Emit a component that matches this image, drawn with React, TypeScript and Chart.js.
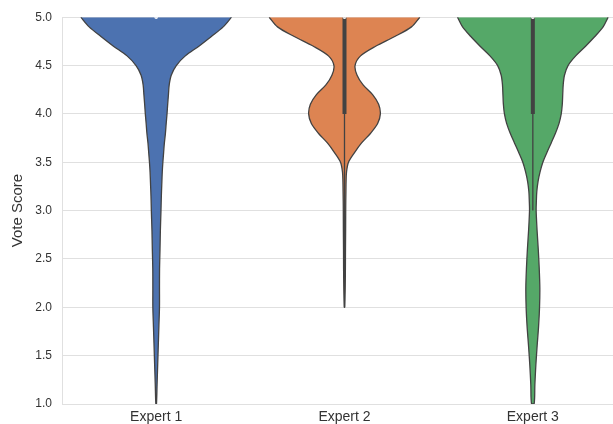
import React, { useEffect, useRef } from 'react';
import { Chart, registerables } from 'chart.js';

Chart.register(...registerables);

// ---- Data ----
const CATEGORIES = ['Expert 1', 'Expert 2', 'Expert 3'];

const EXPERT1_SCORES = [5.0, 4.9, 4.8, 4.7, 4.6, 4.5, 4.4, 4.3, 4.2, 4.1, 4.0, 3.9, 3.8, 3.7, 3.6, 3.5, 3.4, 3.3, 3.2, 3.1, 3.0, 2.8, 2.6, 2.4, 2.2, 2.0, 1.8, 1.6, 1.4, 1.2, 1.0];
const EXPERT1_DENSITY = [1.0, 0.89, 0.733, 0.567, 0.387, 0.267, 0.2, 0.173, 0.163, 0.153, 0.144, 0.133, 0.123, 0.109, 0.099, 0.089, 0.081, 0.076, 0.071, 0.067, 0.064, 0.056, 0.051, 0.045, 0.044, 0.044, 0.036, 0.028, 0.02, 0.012, 0.004];

const EXPERT2_SCORES = [5.0, 4.9, 4.8, 4.7, 4.6, 4.5, 4.4, 4.3, 4.2, 4.1, 4.0, 3.9, 3.8, 3.7, 3.6, 3.5, 3.4, 3.3, 3.2, 3.1, 3.0, 2.8, 2.6, 2.4, 2.2, 2.0];
const EXPERT2_DENSITY = [1.0, 0.889, 0.667, 0.413, 0.213, 0.14, 0.167, 0.247, 0.373, 0.453, 0.476, 0.44, 0.347, 0.227, 0.133, 0.053, 0.027, 0.021, 0.019, 0.017, 0.016, 0.015, 0.013, 0.012, 0.009, 0.002];

const EXPERT3_SCORES = [5.0, 4.9, 4.8, 4.7, 4.6, 4.5, 4.4, 4.3, 4.2, 4.1, 4.0, 3.9, 3.8, 3.7, 3.6, 3.5, 3.4, 3.3, 3.2, 3.1, 3.0, 2.8, 2.6, 2.4, 2.2, 2.0, 1.8, 1.6, 1.4, 1.2, 1.0];
const EXPERT3_DENSITY = [1.0, 0.933, 0.823, 0.7, 0.569, 0.467, 0.42, 0.403, 0.397, 0.391, 0.377, 0.347, 0.3, 0.244, 0.187, 0.133, 0.096, 0.069, 0.053, 0.047, 0.044, 0.056, 0.072, 0.085, 0.093, 0.089, 0.076, 0.057, 0.04, 0.027, 0.017];

const Q1 = [5.0, 4.0, 4.0];
const Q3 = [5.0, 5.0, 5.0];
const MEDIANS = [5.0, 5.0, 5.0];
const WHISKER_LOW = [5.0, 2.0, 3.0];
const WHISKER_HIGH = [5.0, 5.0, 5.0];

// ---- Style ----
const COLORS = ['#4C72B0', '#DD8452', '#55A868'];
const EDGE = '#424242';
const GRID = '#e0e0e0';
const TEXT = '#333333';
const FONT = "'Liberation Sans', Arial, Helvetica, sans-serif";
const HALF_WIDTH = 0.4;

const SERIES = [
  { scores: EXPERT1_SCORES, density: EXPERT1_DENSITY },
  { scores: EXPERT2_SCORES, density: EXPERT2_DENSITY },
  { scores: EXPERT3_SCORES, density: EXPERT3_DENSITY },
];

function violinPolygon(i: number, scores: number[], density: number[]) {
  const right = scores.map((s, k) => ({ x: i + HALF_WIDTH * density[k], y: s }));
  const left = scores.map((s, k) => ({ x: i - HALF_WIDTH * density[k], y: s })).reverse();
  return [...right, ...left];
}

export default function App() {
  const canvasRef = useRef<HTMLCanvasElement | null>(null);

  useEffect(() => {
    if (!canvasRef.current) return;
    const datasets: any[] = [];

    SERIES.forEach((s, i) => {
      datasets.push({
        label: CATEGORIES[i],
        data: violinPolygon(i, s.scores, s.density),
        backgroundColor: COLORS[i],
        borderColor: EDGE,
        borderWidth: 1.3,
        fill: 'shape',
        tension: 0.3,
        pointRadius: 0,
        order: 3,
      });
    });

    CATEGORIES.forEach((_, i) => {
      datasets.push({
        label: 'whisker ' + i,
        data: [{ x: i, y: WHISKER_LOW[i] }, { x: i, y: WHISKER_HIGH[i] }],
        borderColor: EDGE,
        borderWidth: 1.3,
        fill: false,
        pointRadius: 0,
        order: 2,
      });
      datasets.push({
        label: 'box ' + i,
        data: [{ x: i, y: Q1[i] }, { x: i, y: Q3[i] }],
        borderColor: EDGE,
        borderWidth: 4,
        fill: false,
        pointRadius: 0,
        order: 1,
      });
    });

    datasets.push({
      label: 'median',
      data: MEDIANS.map((m, i) => ({ x: i, y: m })),
      showLine: false,
      pointRadius: 1.8,
      pointBackgroundColor: '#ffffff',
      pointBorderWidth: 0,
      order: 0,
    });

    const chart = new Chart(canvasRef.current, {
      type: 'line',
      data: { datasets },
      options: {
        animation: false,
        responsive: false,
        events: [],
        layout: { padding: { top: 17, right: 0, bottom: 0, left: 0 } },
        plugins: {
          legend: { display: false },
          tooltip: { enabled: false },
        },
        scales: {
          x: {
            type: 'linear',
            min: -0.5,
            max: 2.5,
            afterBuildTicks: (scale: any) => {
              scale.ticks = CATEGORIES.map((_, i) => ({ value: i }));
            },
            afterFit: (scale: any) => {
              scale.height = 20;
            },
            grid: { display: false, drawTicks: false },
            border: { display: false },
            ticks: {
              autoSkip: false,
              maxRotation: 0,
              padding: 5,
              color: TEXT,
              font: { family: FONT, size: 14 },
              callback: (v: any) => CATEGORIES[Math.round(Number(v))] ?? '',
            },
          },
          y: {
            type: 'linear',
            min: 1,
            max: 5,
            afterFit: (scale: any) => {
              scale.width = 62;
            },
            grid: { color: GRID, lineWidth: 1, drawTicks: false },
            border: { display: true, color: GRID, width: 1 },
            ticks: {
              stepSize: 0.5,
              padding: 10,
              color: TEXT,
              font: { family: FONT, size: 12 },
              callback: (v: any) => Number(v).toFixed(1),
            },
            title: {
              display: true,
              text: 'Vote Score',
              color: TEXT,
              font: { family: FONT, size: 15 },
              padding: { top: 9, bottom: 0 },
            },
          },
        },
      } as any,
    });

    return () => chart.destroy();
  }, []);

  return (
    <div style={{ position: 'fixed', left: 0, top: 0, width: 613, height: 424, overflow: 'hidden', background: '#ffffff' }}>
      <canvas ref={canvasRef} width={631} height={424} style={{ display: 'block', width: 631, height: 424 }} />
    </div>
  );
}
